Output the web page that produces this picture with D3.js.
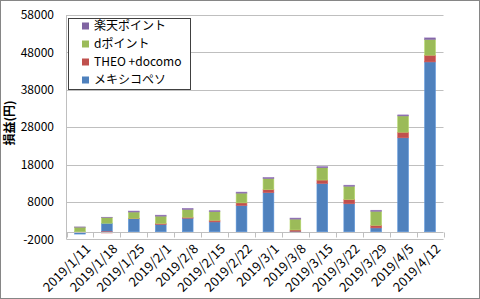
<!DOCTYPE html>
<html>
<head>
<meta charset="utf-8">
<script src="https://cdn.jsdelivr.net/npm/d3@7"></script>
<style>
  body { margin: 0; background: #fff; }
  text { font-family: "Noto Sans CJK JP", "Noto Sans", sans-serif; fill: #000; }
</style>
</head>
<body>
<svg class="chart"></svg>
<script>
// DATA /////////////////////////////////////////
const dates = ["2019/1/11", "2019/1/18", "2019/1/25", "2019/2/1", "2019/2/8", "2019/2/15", "2019/2/22",
  "2019/3/1", "2019/3/8", "2019/3/15", "2019/3/22", "2019/3/29", "2019/4/5", "2019/4/12"];
const seriesNames = ["メキシコペソ", "THEO +docomo", "dポイント", "楽天ポイント"];
const mexico = [-600, 2300, 3500, 2000, 3650, 2650, 7050, 10500, 150, 12950, 7500, 1050, 25150, 45450];
const theo = [0, -300, 100, 250, 250, 450, 700, 800, 350, 900, 1150, 700, 1500, 1800];
const dpoint = [1250, 1500, 1700, 1950, 2100, 2300, 2600, 2950, 2900, 3300, 3550, 3750, 4350, 4200];
const rakuten = [50, 100, 250, 250, 250, 250, 270, 270, 270, 270, 270, 270, 270, 420];
const yTicks = [-2000, 8000, 18000, 28000, 38000, 48000, 58000];
const colors = ["#4f81bd", "#c0504d", "#9bbb59", "#8064a2"];

// DEFINITIONS //////////////////////////////////
const W = 480, H = 299;
const plot = { left: 66.5, right: 443.5, top: 15, bottom: 239.3 };

const svg = d3.select(".chart").attr("width", W).attr("height", H);

svg.append("rect")
  .attr("x", 0.5).attr("y", 0.5)
  .attr("width", W - 1).attr("height", H - 1)
  .attr("fill", "#fff").attr("stroke", "#868686");

const x = d3.scaleBand().domain(dates).range([plot.left, plot.right]).paddingInner(0.6).paddingOuter(0.3);
const xb = d3.scaleBand().domain(dates).range([plot.left, plot.right]);
const y = d3.scaleLinear().domain([-2000, 58000]).range([plot.bottom, plot.top]);

// GRID + Y AXIS ////////////////////////////////
svg.append("g")
  .selectAll("line")
  .data(yTicks)
  .join("line")
  .attr("x1", plot.left).attr("x2", plot.right)
  .attr("y1", (d) => Math.round(y(d)) + 0.5).attr("y2", (d) => Math.round(y(d)) + 0.5)
  .attr("stroke", "#bfbfbf");

svg.append("line")
  .attr("x1", plot.left).attr("x2", plot.left)
  .attr("y1", plot.top).attr("y2", plot.bottom)
  .attr("stroke", "#bfbfbf");

svg.append("g")
  .selectAll("text")
  .data(yTicks)
  .join("text")
  .attr("x", 54)
  .attr("y", (d) => y(d))
  .attr("dy", "0.35em")
  .attr("text-anchor", "end")
  .style("font-size", "12px")
  .text((d) => d);

svg.append("text")
  .attr("transform", "translate(14,123) rotate(-90)")
  .attr("text-anchor", "middle")
  .style("font-size", "12px")
  .style("font-weight", "bold")
  .text("損益(円)");

// BARS /////////////////////////////////////////
const rows = dates.map((d, i) => ({ date: d, s0: mexico[i], s1: theo[i], s2: dpoint[i], s3: rakuten[i] }));
const stack = d3.stack().keys(["s0", "s1", "s2", "s3"]).offset(d3.stackOffsetDiverging);
const layers = stack(rows);

svg.append("g")
  .selectAll("g")
  .data(layers)
  .join("g")
  .attr("fill", (d, i) => colors[i])
  .attr("stroke", (d, i) => d3.color(colors[i]).brighter(0.4))
  .attr("stroke-width", 0.6)
  .selectAll("rect")
  .data((d) => d)
  .join("rect")
  .attr("x", (d) => x(d.data.date))
  .attr("width", x.bandwidth())
  .attr("y", (d) => y(Math.max(d[0], d[1])))
  .attr("height", (d) => Math.abs(y(d[0]) - y(d[1])));

// X AXIS ///////////////////////////////////////
const zeroY = Math.round(y(0)) + 0.5;
svg.append("line")
  .attr("x1", plot.left).attr("x2", plot.right)
  .attr("y1", zeroY).attr("y2", zeroY)
  .attr("stroke", "#bfbfbf");

svg.append("g")
  .selectAll("line")
  .data(dates.concat(["end"]))
  .join("line")
  .attr("x1", (d, i) => Math.round(plot.left + i * xb.step()) + 0.5)
  .attr("x2", (d, i) => Math.round(plot.left + i * xb.step()) + 0.5)
  .attr("y1", zeroY).attr("y2", zeroY + 5)
  .attr("stroke", "#bfbfbf");

svg.append("g")
  .selectAll("text")
  .data(dates)
  .join("text")
  .attr("transform", (d) => `translate(${xb(d) + xb.bandwidth() / 2 + 5},${plot.bottom + 4}) rotate(-45)`)
  .attr("text-anchor", "end")
  .attr("dy", "0.7em")
  .style("font-size", "13px")
  .text((d) => d);

// LEGEND ///////////////////////////////////////
const legend = svg.append("g");
legend.append("rect")
  .attr("x", 68.5).attr("y", 18.5)
  .attr("width", 122).attr("height", 71)
  .attr("fill", "#fff").attr("stroke", "#404040");

const order = [3, 2, 1, 0];
const item = legend.selectAll(".item")
  .data(order)
  .join("g")
  .attr("class", "item")
  .attr("transform", (d, i) => `translate(82, ${26 + i * 18})`);

item.append("rect")
  .attr("x", 0).attr("y", -3.5)
  .attr("width", 7).attr("height", 7)
  .attr("fill", (d) => colors[d]);

item.append("text")
  .attr("x", 12)
  .attr("dy", "0.35em")
  .style("font-size", "12px")
  .text((d) => seriesNames[d]);
</script>
</body>
</html>
